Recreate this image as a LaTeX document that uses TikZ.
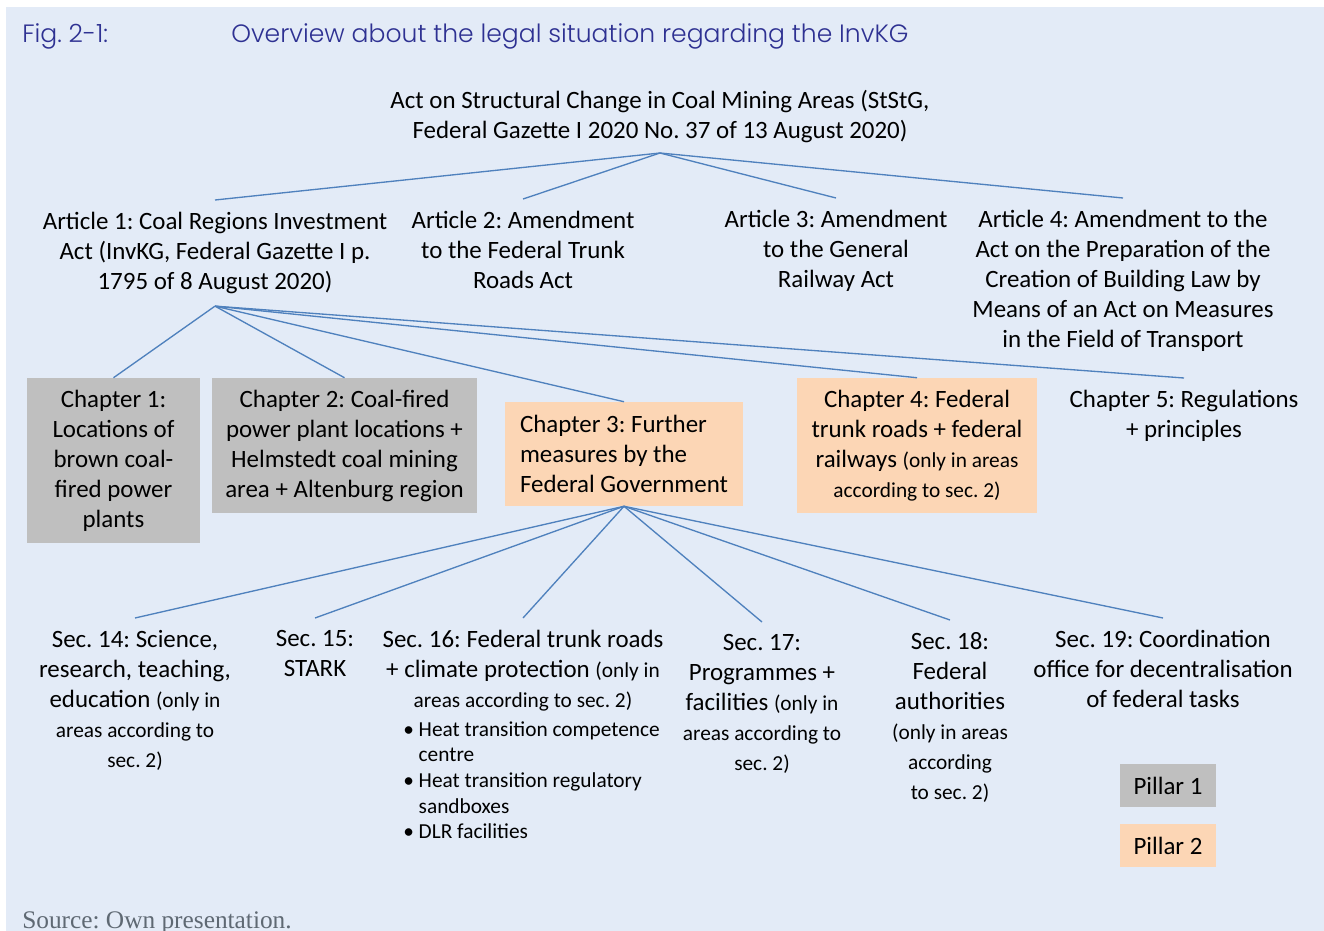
\documentclass[tikz,border=0pt]{standalone}
\usepackage{fontspec}
\setmainfont{Carlito}
\newfontfamily\figfont{Poppins Light}
\newfontfamily\srcfont{Liberation Serif}
\usetikzlibrary{positioning}
\definecolor{panel}{RGB}{227,235,247}
\definecolor{pillarone}{RGB}{191,191,191}
\definecolor{pillartwo}{RGB}{252,214,181}
\definecolor{branch}{RGB}{79,129,189}
\definecolor{figblue}{RGB}{46,49,146}
\definecolor{srcgray}{RGB}{95,105,115}
\newcommand{\note}[1]{{\fontsize{16}{19.3}\selectfont #1}}
\frenchspacing

\tikzset{
  txt/.style={align=center, inner xsep=0pt, inner ysep=9pt},
  chap/.style={align=center, inner sep=0pt},
  conn/.style={branch, line width=1pt},
}

\begin{document}
\begin{tikzpicture}[x=0.75pt, y=-0.75pt, font=\fontsize{18.7}{22.5}\selectfont]
\useasboundingbox (0,0) rectangle (1324,931);
\fill[white] (0,0) rectangle (1324,931);
\fill[panel] (6,7) rectangle (1324,931);

\node[anchor=base west, inner sep=0pt, text=figblue, font=\figfont\fontsize{18.8}{23}\selectfont] (fignum) at (22,43) {Fig. 2-1:};
\node[anchor=base west, inner sep=0pt, text=figblue, font=\figfont\fontsize{18.8}{23}\selectfont] (figtitle) at (231,43) {Overview about the legal situation regarding the InvKG};

% act and its articles
\node[txt, anchor=south, inner ysep=7.5pt] (act) at (660,153) {Act on Structural Change in Coal Mining Areas (StStG,\\Federal Gazette I 2020 No. 37 of 13 August 2020)};
\node[txt, anchor=north] (art1) at (215,200) {Article 1: Coal Regions Investment\\Act (InvKG, Federal Gazette I p.\\1795 of 8 August 2020)};
\node[txt, anchor=north] (art2) at (523,199) {Article 2: Amendment\\to the Federal Trunk\\Roads Act};
\node[txt, anchor=north] (art3) at (836,198) {Article 3: Amendment\\to the General\\Railway Act};
\node[txt, anchor=north] (art4) at (1123,198) {Article 4: Amendment to the\\Act on the Preparation of the\\Creation of Building Law by\\Means of an Act on Measures\\in the Field of Transport};
\foreach \n in {art1,art2,art3,art4}
  \draw[conn] (act.south) -- (\n.north);

% chapters of the InvKG
\node[chap, fill=pillarone, minimum width=129.75pt, minimum height=123.75pt] (ch1) at (113.5,460.5) {Chapter 1:\\Locations of\\brown coal-\\fired power\\plants};
\node[chap, fill=pillarone, minimum width=198.75pt, minimum height=101.25pt] (ch2) at (344.5,445.5) {Chapter 2: Coal-fired\\power plant locations +\\Helmstedt coal mining\\area + Altenburg region};
\node[chap, align=left, fill=pillartwo, minimum width=178.5pt, minimum height=78pt] (ch3) at (624,454) {Chapter 3: Further\\measures by the\\Federal Government};
\node[chap, fill=pillartwo, minimum width=180pt, minimum height=101.25pt] (ch4) at (917,445.5) {Chapter 4: Federal\\trunk roads + federal\\railways \note{(only in areas}\\\note{according to sec. 2)}};
\node[txt, anchor=north] (ch5) at (1184,378) {Chapter 5: Regulations\\+ principles};
\foreach \n in {ch1,ch2,ch3,ch4,ch5}
  \draw[conn] (art1.south) -- (\n.north);

% sections of chapter 3
\node[txt, anchor=north] (sec14) at (135,618) {Sec. 14: Science,\\research, teaching,\\education \note{(only in}\\\note{areas according to}\\\note{sec. 2)}};
\node[txt, anchor=north] (sec15) at (315,618) {Sec. 15:\\STARK};
\node[txt, anchor=north] (sec16) at (523,618) {Sec. 16: Federal trunk roads\\+ climate protection \note{(only in}\\\note{areas according to sec. 2)}};
\node[anchor=north west, inner sep=0pt, align=left, font=\fontsize{16}{19.3}\selectfont] (sec16list) at (403,721) {\textbullet\ Heat transition competence\\\phantom{\textbullet\ }centre\\\textbullet\ Heat transition regulatory\\\phantom{\textbullet\ }sandboxes\\\textbullet\ DLR facilities};
\node[txt, anchor=north] (sec17) at (762,622) {Sec. 17:\\Programmes +\\facilities \note{(only in}\\\note{areas according to}\\\note{sec. 2)}};
\node[txt, anchor=north] (sec18) at (950,620) {Sec. 18:\\Federal\\authorities\\\note{(only in areas}\\\note{according}\\\note{to sec. 2)}};
\node[txt, anchor=north] (sec19) at (1163,618) {Sec. 19: Coordination\\office for decentralisation\\of federal tasks};
\foreach \n in {sec14,sec15,sec16,sec17,sec18,sec19}
  \draw[conn] (ch3.south) -- (\n.north);

% legend
\node[chap, fill=pillarone, minimum width=72pt, minimum height=32.25pt] (pillar1) at (1168,785.5) {Pillar 1};
\node[chap, fill=pillartwo, minimum width=72pt, minimum height=32.25pt] (pillar2) at (1168,845.5) {Pillar 2};

\node[anchor=base west, inner sep=0pt, text=srcgray, font=\srcfont\fontsize{19}{22}\selectfont] (source) at (22,928) {Source: Own presentation.};
\end{tikzpicture}
\end{document}
